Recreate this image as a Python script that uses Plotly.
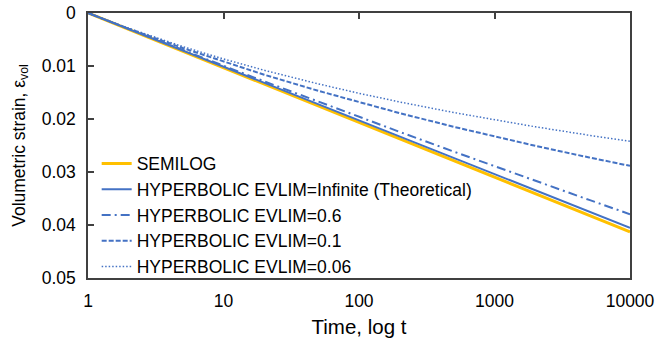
import plotly.graph_objects as go

# Data
time_t = [1, 2, 5, 10, 20, 50, 100, 200, 500, 1000, 2000, 5000, 10000]
semilog = [0, 0.00311, 0.00721, 0.01032, 0.01343, 0.01753, 0.02064, 0.02375, 0.02785, 0.03096, 0.03407, 0.03817, 0.04128]
hyp_inf = [0, 0.00305, 0.00708, 0.01013, 0.01318, 0.01721, 0.02026, 0.02331, 0.02734, 0.03039, 0.03344, 0.03747, 0.04052]
hyp_06 = [0, 0.00304, 0.00700, 0.00996, 0.01290, 0.01673, 0.01960, 0.02244, 0.02615, 0.02893, 0.03168, 0.03527, 0.03796]
hyp_01 = [0, 0.00296, 0.00661, 0.00920, 0.01165, 0.01468, 0.01685, 0.01890, 0.02147, 0.02331, 0.02506, 0.02726, 0.02884]
hyp_006 = [0, 0.00290, 0.00633, 0.00867, 0.01081, 0.01337, 0.01515, 0.01679, 0.01878, 0.02017, 0.02147, 0.02307, 0.02419]

x_ticks = [1, 10, 100, 1000, 10000]
x_ticktext = ["1", "10", "100", "1000", "10000"]
y_ticks = [0, 0.01, 0.02, 0.03, 0.04, 0.05]
y_ticktext = ["0", "0.01", "0.02", "0.03", "0.04", "0.05"]

names = ["SEMILOG", "HYPERBOLIC EVLIM=Infinite (Theoretical)", "HYPERBOLIC EVLIM=0.6",
         "HYPERBOLIC EVLIM=0.1", "HYPERBOLIC EVLIM=0.06"]

GOLD = "#FFC000"
BLUE = "#4472C4"
FONT = "Liberation Sans, Arial, sans-serif"

fig = go.Figure()
fig.add_trace(go.Scatter(x=time_t, y=semilog, mode="lines", name=names[0],
                         line=dict(color=GOLD, width=3)))
fig.add_trace(go.Scatter(x=time_t, y=hyp_inf, mode="lines", name=names[1],
                         line=dict(color=BLUE, width=2)))
fig.add_trace(go.Scatter(x=time_t, y=hyp_06, mode="lines", name=names[2],
                         line=dict(color=BLUE, width=2, dash="9px,4px,2px,4px")))
fig.add_trace(go.Scatter(x=time_t, y=hyp_01, mode="lines", name=names[3],
                         line=dict(color=BLUE, width=2, dash="5px,2px")))
fig.add_trace(go.Scatter(x=time_t, y=hyp_006, mode="lines", name=names[4],
                         line=dict(color=BLUE, width=1.5, dash="1.5px,2px")))
# invisible helper so the top tick axis is drawn
fig.add_trace(go.Scatter(x=[time_t[0]], y=[semilog[0]], xaxis="x2", mode="markers",
                         marker=dict(opacity=0), showlegend=False, hoverinfo="skip"))

fig.update_layout(
    width=656, height=342,
    margin=dict(l=88, r=26, t=13, b=64, autoexpand=False),
    paper_bgcolor="white", plot_bgcolor="white",
    font=dict(family=FONT, color="black", size=17.5),
    showlegend=True,
    legend=dict(x=0.016, y=0.5, xanchor="left", yanchor="top",
                bgcolor="rgba(0,0,0,0)", font=dict(size=17.5, family=FONT, color="black"),
                tracegroupgap=0),
    xaxis=dict(type="log", range=[0, 4], tickvals=x_ticks, ticktext=x_ticktext,
               showline=True, linecolor="#404040", linewidth=1.5, mirror=True,
               ticks="", showgrid=False, zeroline=False, ticklabelstandoff=6,
               automargin=False, tickfont=dict(size=17.5),
               title=dict(text="Time, log t", font=dict(size=20.5), standoff=10)),
    xaxis2=dict(type="log", range=[0, 4], tickvals=x_ticks, overlaying="x", side="top",
                anchor="y", ticks="inside", ticklen=6, tickwidth=1.5, tickcolor="#404040",
                automargin=False,
                showticklabels=False, showgrid=False, zeroline=False, showline=False),
    yaxis=dict(range=[0.05, 0], tickvals=y_ticks, ticktext=y_ticktext,
               showline=True, linecolor="#404040", linewidth=1.5, mirror=True,
               ticks="inside", ticklen=6, tickwidth=1.5, tickcolor="#404040",
               ticklabelstandoff=7, automargin=False,
               showgrid=False, zeroline=False, tickfont=dict(size=17.5),
               title=dict(text="Volumetric strain, ε<sub>vol</sub>", font=dict(size=17.5), standoff=12)),
)

fig.write_html("out.html")
